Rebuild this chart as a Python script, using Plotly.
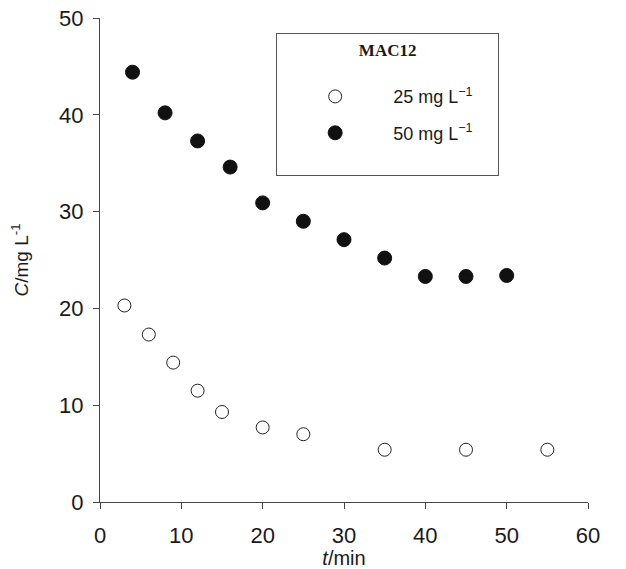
import plotly.graph_objects as go

# Data
t_25 = [3, 6, 9, 12, 15, 20, 25, 35, 45, 55]
c_25 = [20.3, 17.3, 14.4, 11.5, 9.3, 7.7, 7.0, 5.4, 5.4, 5.4]
t_50 = [4, 8, 12, 16, 20, 25, 30, 35, 40, 45, 50]
c_50 = [44.4, 40.2, 37.3, 34.6, 30.9, 29.0, 27.1, 25.2, 23.3, 23.3, 23.4]

x_ticks = [0, 10, 20, 30, 40, 50, 60]
y_ticks = [0, 10, 20, 30, 40, 50]

sans = "Liberation Sans, Arial, sans-serif"
serif = "Liberation Serif, Times New Roman, serif"
pad = "&nbsp;" * 4

fig = go.Figure()
fig.add_trace(go.Scatter(
    x=t_25, y=c_25, mode="markers", name="25 mg L<sup>−1</sup>" + pad,
    legendgroup="a",
    marker=dict(symbol="circle", size=13, color="white",
                line=dict(color="#222", width=1)),
))
fig.add_trace(go.Scatter(
    x=t_50, y=c_50, mode="markers", name="50 mg L<sup>−1</sup>" + pad + "<br> ",
    legendgroup="b",
    marker=dict(symbol="circle", size=14, color="#111",
                line=dict(color="#111", width=1)),
))

axis_common = dict(
    showgrid=False, zeroline=False, showline=True, linecolor="#444",
    linewidth=1, ticks="outside", ticklen=6, tickcolor="#444",
    automargin=False,
    tickfont=dict(family=sans, size=22, color="#1a1a1a"),
)

fig.update_layout(
    width=626, height=569,
    margin=dict(l=100, r=38, t=18, b=67),
    paper_bgcolor="white", plot_bgcolor="white",
    showlegend=True,
    legend=dict(
        x=0.361, y=0.969, xanchor="left", yanchor="top",
        bordercolor="#555", borderwidth=1, bgcolor="white",
        font=dict(family=sans, size=18, color="#1a1a1a"),
        title=dict(text="<b>MAC12</b><br> ", side="top center",
                   font=dict(family=serif, size=17, color="#1a1a1a")),
        itemwidth=106, tracegroupgap=10, itemsizing="trace", valign="top",
    ),
    xaxis=dict(range=[0, 60], tickvals=x_ticks, ticklabelstandoff=8,
               **axis_common,
               title=dict(text="<i>t</i>/min", standoff=0,
                          font=dict(family=sans, size=20, color="#1a1a1a"))),
    yaxis=dict(range=[0, 50], tickvals=y_ticks, ticklabelstandoff=5,
               **axis_common,
               title=dict(text="<i>C</i>/mg L<sup>-1</sup>", standoff=25,
                          font=dict(family=sans, size=19, color="#1a1a1a"))),
)

fig.write_html("out.html")
